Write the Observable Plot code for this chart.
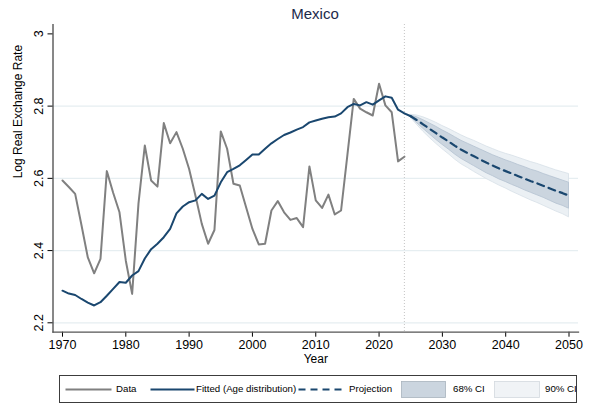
<!DOCTYPE html>
<html>
<head>
<meta charset="utf-8">
<script src="https://cdn.jsdelivr.net/npm/d3@7"></script>
<script src="https://cdn.jsdelivr.net/npm/@observablehq/plot@0.6"></script>
<style>
  body { margin: 0; background: #fff; font-family: "Liberation Sans", Arial, sans-serif; }
  #wrap { position: relative; width: 589px; height: 404px; overflow: hidden; }
  #chart { position: absolute; left: 0; top: 0; }
  #title { position: absolute; left: 52px; width: 526px; top: 5px; text-align: center;
           font-size: 15px; color: #1c2a4a; line-height: 18px; }
  #legend { position: absolute; left: 58.5px; top: 375px; width: 518px; height: 28px;
            border: 1px solid #3c3c3c; box-sizing: border-box; font-size: 9.7px; color: #000; }
  #legend svg { position: absolute; left: 0; top: 0; overflow: visible; }
  #legend span { position: absolute; top: 7px; white-space: nowrap; line-height: 12px; }
</style>
</head>
<body>
<div id="wrap">
  <div id="chart"></div>
  <div id="title"></div>
  <div id="legend"></div>
</div>
<script>
// Mexico: log real exchange rate, observed, fitted from age distribution, and projection
const titleText = "Mexico";
const xTitle = "Year";
const yTitle = "Log Real Exchange Rate";

const xTicks = [1970, 1980, 1990, 2000, 2010, 2020, 2030, 2040, 2050];
const yTicks = [2.2, 2.4, 2.6, 2.8, 3];
const yTickLabels = ["2.2", "2.4", "2.6", "2.8", "3"];
const yGrid = [2.2, 2.4, 2.6, 2.8];
const xDomain = [1968.5, 2051.5];
const yDomain = [2.174, 3.026];

// observed series, 1970–2024
const dataStart = 1970;
const dataValues = [
  2.594, 2.576, 2.557, 2.470, 2.381, 2.337, 2.377, 2.620, 2.560, 2.506,
  2.372, 2.280, 2.530, 2.691, 2.594, 2.577, 2.753, 2.697, 2.728, 2.682,
  2.626, 2.552, 2.474, 2.419, 2.457, 2.730, 2.682, 2.585, 2.580, 2.520,
  2.460, 2.417, 2.419, 2.511, 2.537, 2.506, 2.485, 2.490, 2.465, 2.633,
  2.539, 2.518, 2.555, 2.500, 2.511, 2.665, 2.820, 2.793, 2.783, 2.774,
  2.862, 2.802, 2.783, 2.647, 2.660
];

// fitted (age distribution), 1970–2025
const fitStart = 1970;
const fitValues = [
  2.289, 2.281, 2.277, 2.266, 2.256, 2.248, 2.257, 2.275, 2.294, 2.313,
  2.311, 2.331, 2.343, 2.378, 2.404, 2.419, 2.437, 2.460, 2.503, 2.522,
  2.534, 2.539, 2.557, 2.543, 2.552, 2.589, 2.617, 2.626, 2.636, 2.651,
  2.666, 2.666, 2.682, 2.697, 2.709, 2.720, 2.727, 2.735, 2.742, 2.755,
  2.760, 2.765, 2.769, 2.771, 2.780, 2.797, 2.806, 2.802, 2.811, 2.804,
  2.816, 2.827, 2.823, 2.790, 2.780, 2.772
];

// projection with confidence bands, 2025–2050
const projStart = 2025;
const projMid = [
  2.772, 2.761, 2.749, 2.737, 2.725, 2.713, 2.702, 2.690, 2.679, 2.670,
  2.661, 2.652, 2.643, 2.635, 2.627, 2.620, 2.613, 2.606, 2.599, 2.592,
  2.586, 2.579, 2.572, 2.565, 2.559, 2.552
];
const projLo68 = [
  2.770, 2.753, 2.737, 2.722, 2.707, 2.693, 2.680, 2.666, 2.654, 2.644,
  2.634, 2.624, 2.614, 2.606, 2.597, 2.590, 2.582, 2.575, 2.567, 2.560,
  2.553, 2.546, 2.538, 2.530, 2.524, 2.516
];
const projHi68 = [
  2.774, 2.769, 2.761, 2.752, 2.743, 2.733, 2.724, 2.714, 2.704, 2.696,
  2.688, 2.680, 2.672, 2.664, 2.657, 2.650, 2.644, 2.637, 2.631, 2.624,
  2.619, 2.612, 2.606, 2.600, 2.594, 2.588
];
const projLo90 = [
  2.768, 2.748, 2.729, 2.712, 2.696, 2.681, 2.667, 2.652, 2.639, 2.629,
  2.618, 2.608, 2.598, 2.589, 2.580, 2.572, 2.563, 2.555, 2.547, 2.539,
  2.532, 2.524, 2.516, 2.508, 2.501, 2.492
];
const projHi90 = [
  2.776, 2.774, 2.769, 2.762, 2.754, 2.745, 2.737, 2.728, 2.719, 2.711,
  2.704, 2.696, 2.688, 2.681, 2.674, 2.668, 2.663, 2.657, 2.651, 2.645,
  2.640, 2.634, 2.628, 2.622, 2.617, 2.612
];

const legendLabels = ["Data", "Fitted (Age distribution)", "Projection", "68% CI", "90% CI"];

const cData = "#808080";
const cFit = "#1a476f";
const c68 = "#cbd5df";
const c68Edge = "#b4c2d0";
const c90 = "#ebf0f4";
const c90Edge = "#d7dfe7";

const dataRows = dataValues.map((v, i) => ({year: dataStart + i, value: v}));
const fitRows = fitValues.map((v, i) => ({year: fitStart + i, value: v}));
const projRows = projMid.map((v, i) => ({
  year: projStart + i, mid: v,
  lo68: projLo68[i], hi68: projHi68[i], lo90: projLo90[i], hi90: projHi90[i]
}));
const lastObserved = dataRows[dataRows.length - 1].year;

const fmtY = d => yTickLabels[yTicks.indexOf(d)];

const chart = Plot.plot({
  width: 589,
  height: 370,
  marginLeft: 52.5,
  marginRight: 11,
  marginTop: 24,
  marginBottom: 38.3,
  style: {fontFamily: "'Liberation Sans', Arial, sans-serif", fontSize: "12.5px", color: "#000", background: "transparent"},
  x: {domain: xDomain},
  y: {domain: yDomain},
  marks: [
    Plot.gridY(yGrid, {stroke: "#e6eef1", strokeOpacity: 1, strokeWidth: 1.3}),
    Plot.ruleX([lastObserved], {stroke: "#c4c4c4", strokeWidth: 1, strokeDasharray: "1,2"}),
    Plot.areaY(projRows, {x: "year", y1: "lo90", y2: "hi90", fill: c90, fillOpacity: 1, stroke: c90Edge, strokeWidth: 0.8}),
    Plot.areaY(projRows, {x: "year", y1: "lo68", y2: "hi68", fill: c68, fillOpacity: 1, stroke: c68Edge, strokeWidth: 0.8}),
    Plot.line(dataRows, {x: "year", y: "value", stroke: cData, strokeWidth: 2}),
    Plot.line(fitRows, {x: "year", y: "value", stroke: cFit, strokeWidth: 2}),
    Plot.line(projRows, {x: "year", y: "mid", stroke: cFit, strokeWidth: 2.2, strokeDasharray: "7,5"}),
    Plot.axisX(xTicks, {tickSize: 5, tickPadding: 3, tickFormat: d => String(d), label: null, fontSize: 12.5}),
    Plot.axisY(yTicks, {tickSize: 5, tickPadding: 5, tickRotate: -90, tickFormat: fmtY, label: null, fontSize: 12.5}),
    Plot.frame({anchor: "left", stroke: "#111", strokeWidth: 1}),
    Plot.frame({anchor: "bottom", stroke: "#555", strokeWidth: 1.3}),
    Plot.text([yTitle], {frameAnchor: "left", rotate: -90, dx: -35, lineAnchor: "middle", fontSize: 12}),
    Plot.text([xTitle], {frameAnchor: "bottom", dy: 27, lineAnchor: "middle", fontSize: 12})
  ]
});
document.getElementById("chart").append(chart);
document.getElementById("title").textContent = titleText;

// legend below the plot
const legend = document.getElementById("legend");
const L = 58.5; // legend box left edge on the page
legend.innerHTML = `
<svg width="518" height="28">
  <line x1="${64 - L}" x2="${110 - L}" y1="13.5" y2="13.5" stroke="${cData}" stroke-width="2"/>
  <line x1="${149 - L}" x2="${193 - L}" y1="13.5" y2="13.5" stroke="${cFit}" stroke-width="2"/>
  <line x1="${297 - L}" x2="${342 - L}" y1="13.5" y2="13.5" stroke="${cFit}" stroke-width="2" stroke-dasharray="7,5"/>
  <rect x="${400 - L}" y="5.5" width="44" height="16" fill="${c68}" stroke="#a9b3bd" stroke-width="0.8"/>
  <rect x="${493 - L}" y="5.5" width="45" height="16" fill="#f0f3f6" stroke="#d3d9df" stroke-width="0.8"/>
</svg>
<span style="left:${115 - L}px">${legendLabels[0]}</span>
<span style="left:${195 - L}px">${legendLabels[1]}</span>
<span style="left:${348 - L}px">${legendLabels[2]}</span>
<span style="left:${452 - L}px">${legendLabels[3]}</span>
<span style="left:${544 - L}px">${legendLabels[4]}</span>`;
</script>
</body>
</html>
